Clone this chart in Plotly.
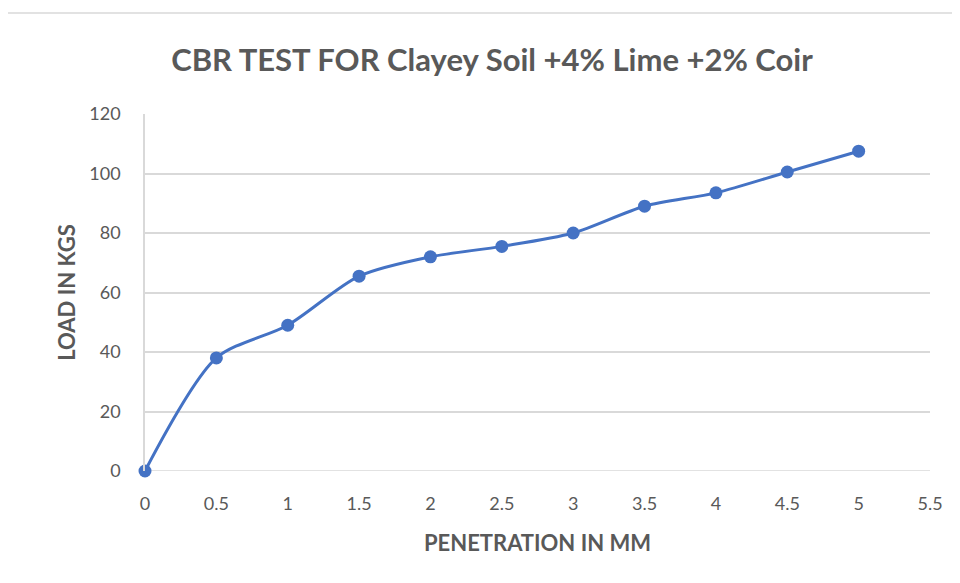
import plotly.graph_objects as go

penetration = [0, 0.5, 1, 1.5, 2, 2.5, 3, 3.5, 4, 4.5, 5]
load = [0, 38, 49, 65.5, 72, 75.5, 80, 89, 93.5, 100.5, 107.5]
x_ticks = [0, 0.5, 1, 1.5, 2, 2.5, 3, 3.5, 4, 4.5, 5, 5.5]
y_ticks = [0, 20, 40, 60, 80, 100, 120]

FONT = "Lato, Open Sans, sans-serif"
GREY = "#595959"

# page body has an 8px margin; figure sized/positioned to compensate
W, H = 952, 575
OFF = 8
L, R, T, B = 145 - OFF, W - (930 - OFF), 114 - OFF, H - (471 - OFF)
PW, PH = W - L - R, H - T - B

fig = go.Figure()
fig.add_trace(go.Scatter(
    x=penetration, y=load, mode="lines+markers",
    line=dict(color="#4472C4", width=3, shape="spline", smoothing=0.8),
    marker=dict(color="#4472C4", size=13),
    cliponaxis=False, showlegend=False,
))

fig.update_layout(
    width=W, height=H,
    margin=dict(l=L, r=R, t=T, b=B),
    paper_bgcolor="white", plot_bgcolor="white",
    title=dict(text="<b>CBR TEST FOR Clayey Soil +4% Lime +2% Coir</b>",
               x=(492 - OFF) / W, xanchor="center", y=1 - (60 - OFF) / H, yanchor="middle",
               font=dict(family=FONT, size=31, color=GREY)),
    xaxis=dict(range=[0, 5.5], tickvals=x_ticks, ticktext=[str(v) for v in x_ticks],
               showgrid=False, zeroline=False, showline=False,
               ticks="", ticklabelstandoff=20, tickfont=dict(family=FONT, size=18, color=GREY),
               title=dict(text="<b>PENETRATION IN MM</b>", standoff=22,
                          font=dict(family=FONT, size=22, color=GREY))),
    yaxis=dict(range=[0, 120], tickvals=y_ticks, showgrid=True, gridcolor="#d9d9d9",
               gridwidth=1.5, zeroline=False, showline=True, linecolor="#d9d9d9",
               linewidth=1.5, ticks="", ticklabelstandoff=19,
               tickfont=dict(family=FONT, size=18, color=GREY),
               title=dict(text="<b>LOAD IN KGS</b>", standoff=8,
                          font=dict(family=FONT, size=22, color=GREY))),
    shapes=[dict(type="rect", xref="paper", yref="paper",
                 x0=(6 - 145) / PW, x1=1.2, y0=-0.5, y1=(471 - 13) / PH,
                 line=dict(color="#d9d9d9", width=1.5), fillcolor="rgba(0,0,0,0)",
                 layer="below")],
)
fig.add_shape(type="line", xref="paper", yref="y", x0=0, x1=1, y0=0, y1=0,
              line=dict(color="#d9d9d9", width=1.5), layer="below")

fig.write_html("out.html")
